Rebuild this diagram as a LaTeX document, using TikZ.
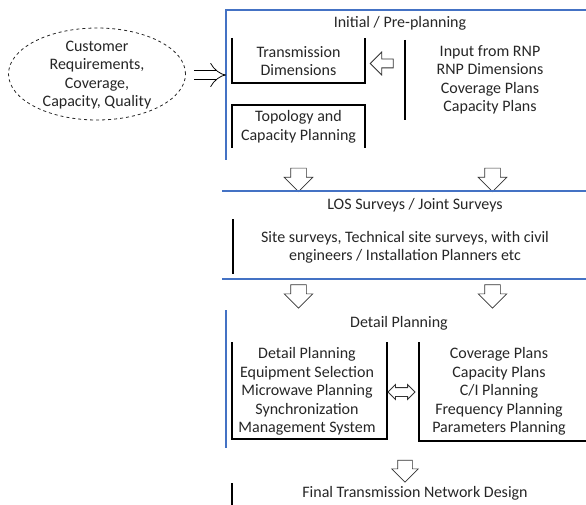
\documentclass[tikz,border=0pt]{standalone}
\usepackage{fontspec}
\setmainfont{Carlito}
\usetikzlibrary{shapes.geometric,shapes.arrows,arrows.meta,calc}
\definecolor{secblue}{RGB}{68,114,196}
\tikzset{
  txt/.style={align=center,font=\fontsize{16}{18.5}\selectfont,text=black!85,inner sep=0pt},
  frame/.style={draw=none,inner sep=0pt,outer sep=0pt},
  edge/.style={draw=black,line width=1.3pt},
  secline/.style={draw=secblue,line width=1.3pt},
  downarrow/.style={single arrow,draw=black!80,line width=0.7pt,shape border rotate=270,
     minimum width=28pt,minimum height=22pt,single arrow head extend=6.5pt,inner sep=7.5pt},
}
\begin{document}
\begin{tikzpicture}[x=1pt,y=-1pt]
\useasboundingbox (0,0) rectangle (586,505);
% ---- Customer ellipse
\node[ellipse,draw=black!85,dashed,line width=0.8pt,minimum width=177pt,minimum height=92pt,inner sep=0pt] (cust) at (97,74) {};
\node[txt] (custt) at (97,75) {Customer\\Requirements,\\Coverage,\\Capacity, Quality};
% ---- Initial / Pre-planning section
\node[frame,minimum width=360pt,minimum height=150pt] (init) at (406,85) {};
\draw[secline] (init.south west) |- (init.north east);
\node[txt] (initt) at (400,23) {Initial / Pre-planning};
\node[frame,minimum width=133pt,minimum height=45pt] (tdim) at (298.5,60.5) {};
\draw[edge] (tdim.north west) |- (tdim.south east) -- (tdim.north east);
\node[txt] (tdimt) at (298.5,61) {Transmission\\Dimensions};
\node[frame,minimum width=133pt,minimum height=43pt] (topo) at (298.5,126.5) {};
\draw[edge] (topo.south west) |- (topo.north east) -- (topo.south east);
\node[txt] (topot) at (298.5,127) {Topology and\\Capacity Planning};
\node[frame,minimum width=1pt,minimum height=80pt] (rnpbar) at (405,80) {};
\draw[edge] (rnpbar.north) -- (rnpbar.south);
\node[txt] (rnp) at (490,80) {Input from RNP\\RNP Dimensions\\Coverage Plans\\Capacity Plans};
\node[single arrow,draw=black!80,line width=0.8pt,shape border rotate=180,minimum width=22pt,minimum height=23pt,single arrow head extend=7pt,inner sep=4pt] (larr) at (384,63.5) {};
% double-line arrow from ellipse to section
\coordinate (dstart) at ($(cust.east)+(8,1)$);
\coordinate (dend) at ($(init.west |- cust.east)+(0,1)$);
\draw[line width=0.8pt,double distance=8pt,-{Implies[length=9pt,width=22pt]}] (dstart) -- (dend);
% ---- down arrows 1
\node[downarrow] (d1a) at (298.5,176) {};
\node[downarrow] (d1b) at (492.5,176) {};
% ---- LOS section
\node[frame,minimum width=364pt,minimum height=88pt] (los) at (404,235) {};
\draw[secline] (los.north west) -- (los.north east);
\draw[secline] (los.south west) -- (los.south east);
\node[txt] (lost) at (415,205) {LOS Surveys / Joint Surveys};
\node[frame,minimum width=1pt,minimum height=55pt] (losbar) at (233,246.5) {};
\draw[edge] (losbar.north) -- (losbar.south);
\node[txt] (losd) at (405,247.5) {Site surveys, Technical site surveys, with civil\\engineers / Installation Planners etc};
% ---- down arrows 2
\node[downarrow] (d2a) at (298.5,292.5) {};
\node[downarrow] (d2b) at (492.5,292.5) {};
% ---- Detail planning section
\node[frame,minimum width=1pt,minimum height=138pt] (detbar) at (226,379) {};
\draw[secline] (detbar.north) -- (detbar.south);
\node[txt] (dett) at (399,323) {Detail Planning};
\node[frame,minimum width=155pt,minimum height=97pt] (dl) at (309.5,390.5) {};
\draw[edge] (dl.north west) |- (dl.south east) -- (dl.north east);
\node[txt] (dlt) at (307,391.5) {Detail Planning\\Equipment Selection\\Microwave Planning\\Synchronization\\Management System};
\node[frame,minimum width=167pt,minimum height=99pt] (dr) at (502.5,391.5) {};
\draw[edge] (dr.north west) |- (dr.south east);
\node[txt] (drt) at (499,391.5) {Coverage Plans\\Capacity Plans\\C/I Planning\\Frequency Planning\\Parameters Planning};
\node[double arrow,draw=black!80,line width=0.8pt,minimum width=14pt,minimum height=27pt,double arrow head extend=3pt,inner sep=4pt] (darr) at (401.5,392) {};
% ---- final
\node[downarrow,minimum width=26pt,minimum height=20pt,single arrow head extend=6pt,inner sep=7pt] (d3) at (405,467.5) {};
\node[frame,minimum width=1pt,minimum height=22pt] (finbar) at (232,494) {};
\draw[edge] (finbar.north) -- (finbar.south);
\node[txt] (fint) at (415,493) {Final Transmission Network Design};
\end{tikzpicture}
\end{document}
